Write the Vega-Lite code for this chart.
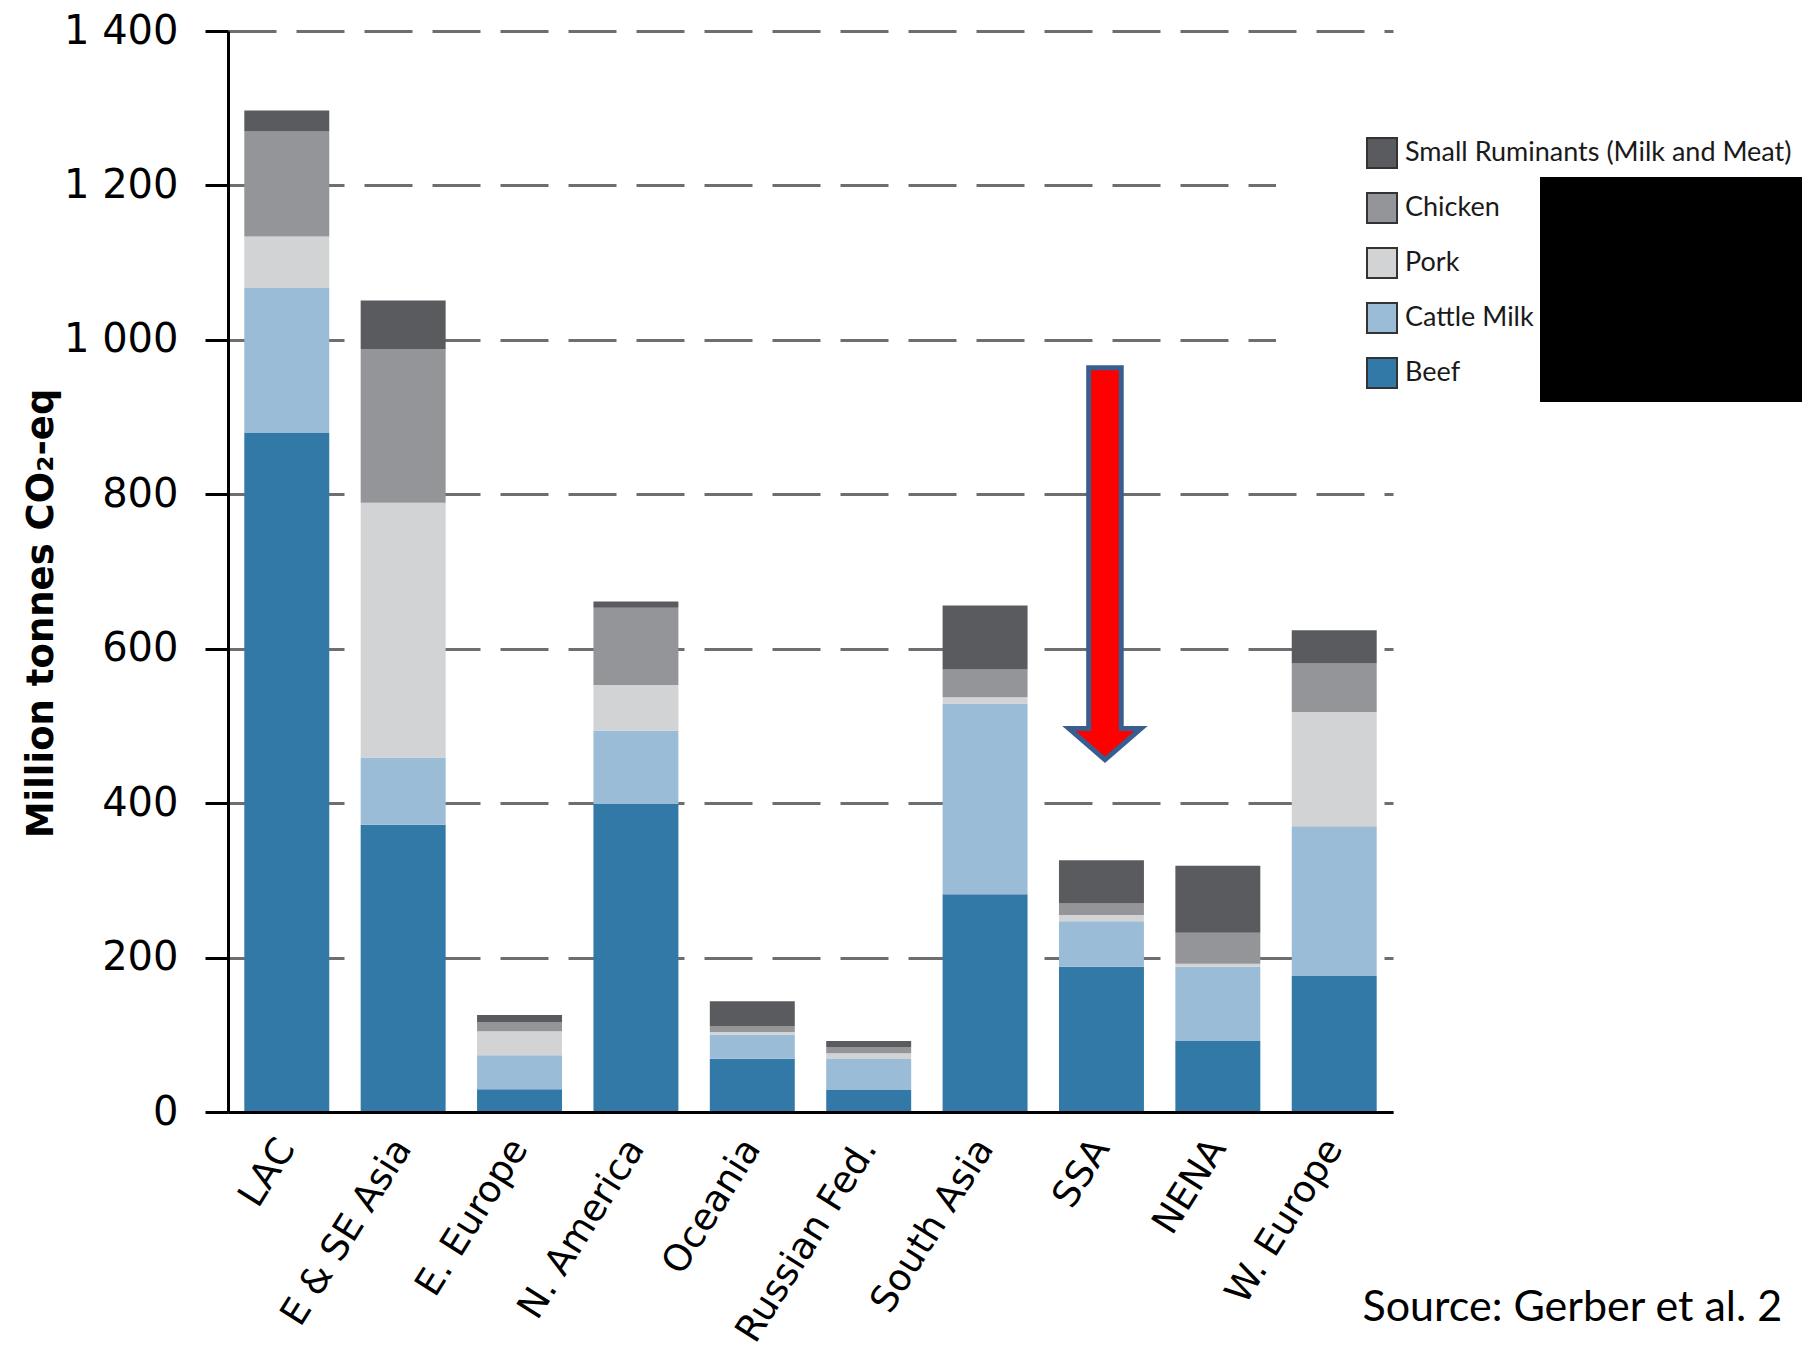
{
  "$schema": "https://vega.github.io/schema/vega-lite/v6.json",
  "width": 1165,
  "height": 1081,
  "autosize": {"type": "none"},
  "padding": {"left": 228, "top": 31, "right": 409, "bottom": 256},
  "background": "white",
  "config": {"view": {"stroke": null}},
  "resolve": {"axis": {"x": "independent", "y": "independent"}},
  "layer": [
    {
      "data": {
        "values": [
          {"region": "LAC", "type": "Beef", "value": 880},
          {"region": "LAC", "type": "Cattle Milk", "value": 187},
          {"region": "LAC", "type": "Pork", "value": 67},
          {"region": "LAC", "type": "Chicken", "value": 136},
          {"region": "LAC", "type": "Small Ruminants (Milk and Meat)", "value": 27},
          {"region": "E & SE Asia", "type": "Beef", "value": 372},
          {"region": "E & SE Asia", "type": "Cattle Milk", "value": 87},
          {"region": "E & SE Asia", "type": "Pork", "value": 330},
          {"region": "E & SE Asia", "type": "Chicken", "value": 199},
          {"region": "E & SE Asia", "type": "Small Ruminants (Milk and Meat)", "value": 63},
          {"region": "E. Europe", "type": "Beef", "value": 29.5},
          {"region": "E. Europe", "type": "Cattle Milk", "value": 44},
          {"region": "E. Europe", "type": "Pork", "value": 31},
          {"region": "E. Europe", "type": "Chicken", "value": 12},
          {"region": "E. Europe", "type": "Small Ruminants (Milk and Meat)", "value": 9},
          {"region": "N. America", "type": "Beef", "value": 399},
          {"region": "N. America", "type": "Cattle Milk", "value": 95},
          {"region": "N. America", "type": "Pork", "value": 59},
          {"region": "N. America", "type": "Chicken", "value": 100},
          {"region": "N. America", "type": "Small Ruminants (Milk and Meat)", "value": 8},
          {"region": "Oceania", "type": "Beef", "value": 69},
          {"region": "Oceania", "type": "Cattle Milk", "value": 31},
          {"region": "Oceania", "type": "Pork", "value": 3.5},
          {"region": "Oceania", "type": "Chicken", "value": 8},
          {"region": "Oceania", "type": "Small Ruminants (Milk and Meat)", "value": 32},
          {"region": "Russian Fed.", "type": "Beef", "value": 28.5},
          {"region": "Russian Fed.", "type": "Cattle Milk", "value": 40},
          {"region": "Russian Fed.", "type": "Pork", "value": 7.6},
          {"region": "Russian Fed.", "type": "Chicken", "value": 8},
          {"region": "Russian Fed.", "type": "Small Ruminants (Milk and Meat)", "value": 8},
          {"region": "South Asia", "type": "Beef", "value": 282},
          {"region": "South Asia", "type": "Cattle Milk", "value": 247},
          {"region": "South Asia", "type": "Pork", "value": 8},
          {"region": "South Asia", "type": "Chicken", "value": 36},
          {"region": "South Asia", "type": "Small Ruminants (Milk and Meat)", "value": 83},
          {"region": "SSA", "type": "Beef", "value": 188},
          {"region": "SSA", "type": "Cattle Milk", "value": 59},
          {"region": "SSA", "type": "Pork", "value": 8},
          {"region": "SSA", "type": "Chicken", "value": 15},
          {"region": "SSA", "type": "Small Ruminants (Milk and Meat)", "value": 56},
          {"region": "NENA", "type": "Beef", "value": 92},
          {"region": "NENA", "type": "Cattle Milk", "value": 96},
          {"region": "NENA", "type": "Pork", "value": 4},
          {"region": "NENA", "type": "Chicken", "value": 40},
          {"region": "NENA", "type": "Small Ruminants (Milk and Meat)", "value": 87},
          {"region": "W. Europe", "type": "Beef", "value": 176},
          {"region": "W. Europe", "type": "Cattle Milk", "value": 194},
          {"region": "W. Europe", "type": "Pork", "value": 148},
          {"region": "W. Europe", "type": "Chicken", "value": 63},
          {"region": "W. Europe", "type": "Small Ruminants (Milk and Meat)", "value": 43}
        ]
      },
      "transform": [
        {"calculate": "indexof(['Beef','Cattle Milk','Pork','Chicken','Small Ruminants (Milk and Meat)'], datum.type)", "as": "k"}
      ],
      "mark": {"type": "bar"},
      "encoding": {
        "x": {
          "field": "region",
          "type": "nominal",
          "sort": null,
          "scale": {
            "domain": ["LAC", "E & SE Asia", "E. Europe", "N. America", "Oceania", "Russian Fed.", "South Asia", "SSA", "NENA", "W. Europe"],
            "paddingInner": 0.27,
            "paddingOuter": 0.14
          },
          "axis": {
            "zindex": 1,
            "labelAngle": -58,
            "labelAlign": "right",
            "labelBaseline": "middle",
            "labelFont": "DejaVu Sans",
            "labelFontSize": 37,
            "labelColor": "black",
            "labelPadding": 30,
            "labelOverlap": false,
            "labelLimit": 400,
            "ticks": false,
            "domainColor": "black",
            "domainWidth": 3,
            "title": "Source: Gerber et al. 2",
            "titleX": 1134,
            "titleY": 208,
            "titleAlign": "left",
            "titleBaseline": "alphabetic",
            "titleFont": "Lato",
            "titleFontSize": 43,
            "titleFontWeight": "normal",
            "titleColor": "black"
          }
        },
        "y": {
          "field": "value",
          "type": "quantitative",
          "stack": "zero",
          "scale": {"domain": [0, 1400], "nice": false},
          "axis": {
            "values": [0, 200, 400, 600, 800, 1000, 1200, 1400],
            "labelExpr": "replace(format(datum.value, ',d'), ',', ' ')",
            "labelFont": "DejaVu Sans",
            "labelFontSize": 40,
            "labelColor": "black",
            "labelPadding": 27,
            "tickSize": 23,
            "tickWidth": 3,
            "tickColor": "black",
            "domainColor": "black",
            "domainWidth": 3,
            "grid": true,
            "gridColor": "#6d6e71",
            "gridWidth": 3,
            "gridDash": [48, 20],
            "title": "Million tonnes CO₂-eq",
            "titleFont": "DejaVu Sans",
            "titleFontSize": 37,
            "titleFontWeight": "bold",
            "titleColor": "black",
            "titleAngle": -90,
            "titleAlign": "center",
            "titleBaseline": "alphabetic",
            "titleX": -176,
            "titleY": 582
          }
        },
        "color": {
          "field": "type",
          "type": "nominal",
          "scale": {
            "domain": ["Small Ruminants (Milk and Meat)", "Chicken", "Pork", "Cattle Milk", "Beef"],
            "range": ["#5a5b5e", "#949598", "#d2d3d5", "#9abcd6", "#3379a7"]
          },
          "legend": {
            "orient": "none",
            "legendX": 1048,
            "legendY": 86,
            "padding": 20,
            "fillColor": "white",
            "title": " ",
            "titleOrient": "left",
            "titlePadding": 70,
            "titleFontSize": 10,
            "symbolType": "square",
            "symbolSize": 900,
            "symbolStrokeColor": "#333333",
            "symbolStrokeWidth": 2,
            "symbolOpacity": 1,
            "labelFont": "Lato",
            "labelFontSize": 27,
            "labelColor": "#1a1a1a",
            "labelOffset": 7,
            "labelLimit": 600,
            "rowPadding": 17,
            "zindex": 0
          }
        },
        "order": {"field": "k", "type": "quantitative"}
      }
    },
    {
      "data": {"values": [{"region": "SSA", "y": 710}]},
      "mark": {
        "type": "point",
        "filled": true,
        "shape": "M-0.083,-1H0.083V0.84H0.184L0,1L-0.184,0.84H-0.083Z",
        "size": 153664,
        "fill": "#ff0000",
        "fillOpacity": 1,
        "opacity": 1,
        "stroke": "#3a5d8f",
        "strokeWidth": 5,
        "strokeJoin": "miter",
        "xOffset": 3.5
      },
      "encoding": {
        "x": {"field": "region", "type": "nominal", "axis": null},
        "y": {"field": "y", "type": "quantitative", "axis": null}
      }
    },
    {
      "data": {"values": [{"region": "SSA", "y": 710}]},
      "mark": {"type": "point", "filled": true, "opacity": 0, "color": "black"},
      "encoding": {
        "x": {"field": "region", "type": "nominal", "axis": null},
        "y": {"field": "y", "type": "quantitative", "axis": null},
        "shape": {
          "datum": "blk",
          "scale": {"range": ["M-1,-0.843H1V0.843H-1Z"]},
          "legend": {
            "orient": "none",
            "legendX": 1312,
            "legendY": 125,
            "padding": 0,
            "title": null,
            "labelExpr": "''",
            "symbolSize": 71289,
            "symbolFillColor": "black",
            "symbolStrokeColor": "black",
            "symbolStrokeWidth": 0,
            "symbolOpacity": 1,
            "zindex": 1
          }
        }
      }
    }
  ]
}
